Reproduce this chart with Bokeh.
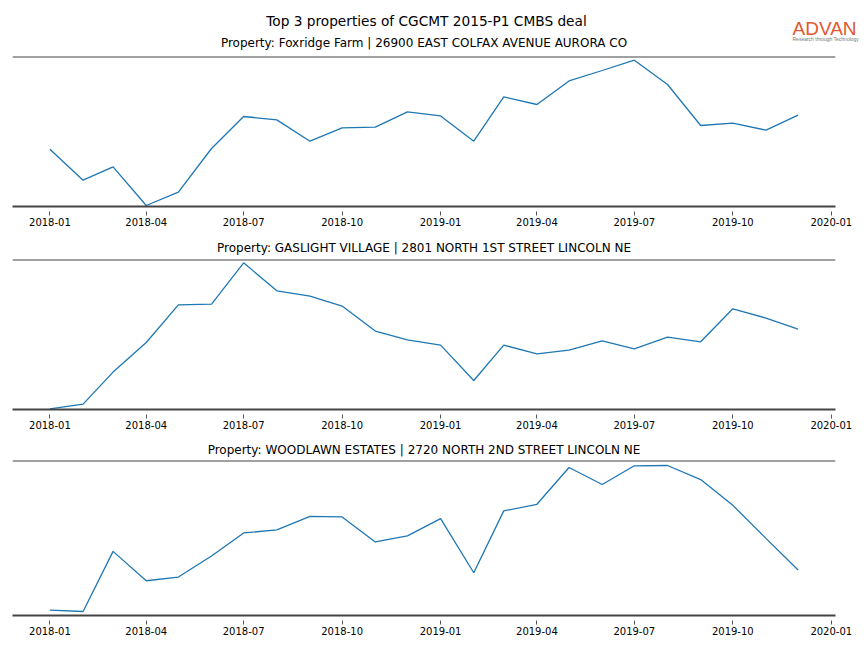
from datetime import datetime, timedelta
import calendar
from bokeh.plotting import figure
from bokeh.layouts import column
from bokeh.models import Range1d, Span, Label, FixedTicker, DatetimeTickFormatter, Title
from bokeh.embed import file_html
from bokeh.resources import INLINE

# ---------------- data ----------------
months = ["2018-01", "2018-02", "2018-03", "2018-04", "2018-05", "2018-06",
          "2018-07", "2018-08", "2018-09", "2018-10", "2018-11", "2018-12",
          "2019-01", "2019-02", "2019-03", "2019-04", "2019-05", "2019-06",
          "2019-07", "2019-08", "2019-09", "2019-10", "2019-11", "2019-12"]

foxridge = [573, 263, 396, 10, 143, 580, 900, 866, 653, 786, 793, 946,
            906, 653, 1096, 1020, 1256, 1360, 1463, 1220, 810, 833, 763, 913]
gaslight = [7, 54, 374, 670, 1047, 1054, 1467, 1187, 1134, 1034, 784, 697,
            644, 290, 644, 557, 594, 687, 607, 724, 677, 1007, 914, 804]
woodlawn = [54, 40, 640, 347, 384, 594, 824, 854, 990, 984, 734, 794,
            967, 427, 1044, 1110, 1477, 1307, 1494, 1497, 1357, 1100, 770, 454]

tick_labels = ["2018-01", "2018-04", "2018-07", "2018-10", "2019-01",
               "2019-04", "2019-07", "2019-10", "2020-01"]

main_title = "Top 3 properties of CGCMT 2015-P1 CMBS deal"
titles = ["Property: Foxridge Farm | 26900 EAST COLFAX AVENUE AURORA CO",
          "Property: GASLIGHT VILLAGE | 2801 NORTH 1ST STREET LINCOLN NE",
          "Property: WOODLAWN ESTATES | 2720 NORTH 2ND STREET LINCOLN NE"]
series = [foxridge, gaslight, woodlawn]
y_tops = [1500, 1500, 1547]

# ---------------- helpers ----------------
def to_dt(s):
    y, m = s.split("-")
    return datetime(int(y), int(m), 1)

def to_ms(d):
    return calendar.timegm(d.timetuple()) * 1000

x_dates = [to_dt(m) for m in months]
span_days = (x_dates[-1] - x_dates[0]).days
pad = timedelta(days=span_days * 0.05)
x0, x1 = x_dates[0] - pad, x_dates[-1] + pad
ticks = [to_ms(to_dt(t)) for t in tick_labels]

FONT = "DejaVu Sans"
FRAME_W = 823
LEFT = 12
RIGHT = 27
PAGE_W = LEFT + FRAME_W + RIGHT
HEADER_H = 54

# ---------------- header (main title, logo, first subtitle) ----------------
# header frame starts at the same left edge as the panel frames; its data x = page x
hdr = figure(frame_width=PAGE_W - LEFT, frame_height=HEADER_H,
             x_range=Range1d(LEFT, PAGE_W), y_range=Range1d(HEADER_H, 0),
             x_axis_location=None, y_axis_location=None,
             output_backend="svg", toolbar_location=None,
             min_border_left=LEFT, min_border_right=0,
             min_border_top=0, min_border_bottom=0)
hdr.grid.visible = False
hdr.outline_line_color = None
hdr.add_layout(Label(x=426, y=20, text=main_title, text_align="center",
                     text_baseline="middle", text_font=FONT,
                     text_font_size="13.7px", text_color="#000000"))
hdr.add_layout(Label(x=LEFT + FRAME_W / 2, y=42, text=titles[0],
                     text_align="center", text_baseline="middle",
                     text_font=FONT, text_font_size="12px",
                     text_color="#000000"))
hdr.add_layout(Label(x=792, y=27.5, text="ADVAN", text_align="left",
                     text_baseline="middle", text_font="Liberation Sans",
                     text_font_size="19px", text_color="#E4572E"))
hdr.add_layout(Label(x=792, y=38.5, text="Research through Technology",
                     text_align="left", text_baseline="middle",
                     text_font="Liberation Sans", text_font_size="5px",
                     text_color="#777777"))


def panel(vals, ytop, title, frame_h, border_top, border_bottom, standoff):
    p = figure(frame_width=FRAME_W, frame_height=frame_h,
               x_axis_type="datetime", y_axis_location=None,
               x_range=Range1d(x0, x1), y_range=Range1d(0, ytop),
               output_backend="svg", toolbar_location=None,
               min_border_left=LEFT, min_border_right=RIGHT,
               min_border_top=border_top, min_border_bottom=border_bottom)
    p.grid.visible = False
    p.outline_line_color = None
    p.line(x_dates, vals, color="#1f77b4", line_width=1.3)
    p.add_layout(Span(location=ytop, dimension="width",
                      line_color="#444444", line_width=1.8))
    ax = p.xaxis[0]
    ax.ticker = FixedTicker(ticks=ticks)
    ax.formatter = DatetimeTickFormatter(days="%Y-%m", months="%Y-%m", years="%Y-%m")
    ax.axis_line_color = "#444444"
    ax.axis_line_width = 1.8
    ax.major_tick_line_color = "#555555"
    ax.major_tick_line_width = 1
    ax.major_tick_in = -5
    ax.major_tick_out = 9
    ax.minor_tick_line_color = None
    ax.major_label_standoff = 2
    ax.major_label_text_font = FONT
    ax.major_label_text_font_size = "10px"
    ax.major_label_text_color = "#000000"
    if title:
        p.add_layout(Title(text=title, align="center", text_font=FONT,
                           text_font_size="12px", text_font_style="normal",
                           text_color="#000000", standoff=standoff), "above")
    return p

p1 = panel(series[0], y_tops[0], None, 150, 2, 28, 0)
p2 = panel(series[1], y_tops[1], titles[1], 150, 0, 28, 9)
p3 = panel(series[2], y_tops[2], titles[2], 155, 0, 26, 7)

layout = column(hdr, p1, p2, p3, spacing=0)
open("out.html", "w").write(file_html(layout, INLINE))
